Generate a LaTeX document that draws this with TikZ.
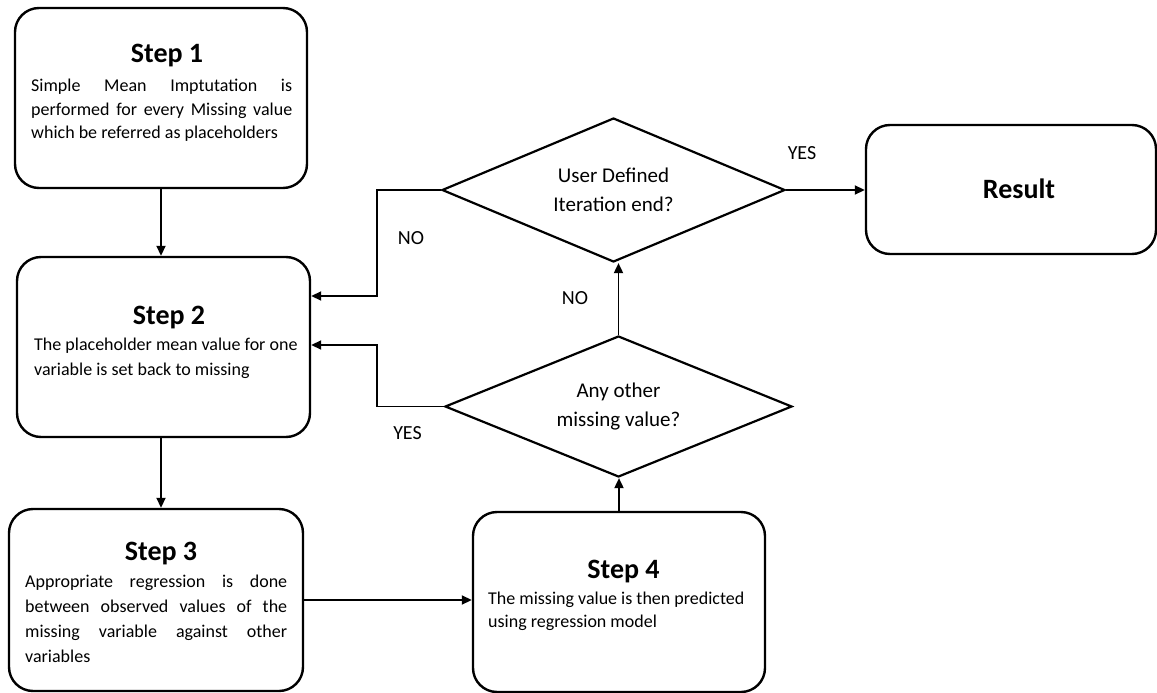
\documentclass[tikz,border=0pt]{standalone}
\usepackage{fontspec}
\setmainfont{Carlito}
\usetikzlibrary{shapes.geometric,arrows.meta}

\begin{document}
\begin{tikzpicture}[x=1pt,y=-1pt,
  stepbox/.style={draw,line width=2.4pt,rounded corners=24pt,rectangle,inner sep=0pt},
  decision/.style={draw,line width=2.2pt,diamond,aspect=2.4,inner sep=0pt,align=center,
    font=\fontsize{21}{28.5}\selectfont},
  conn/.style={line width=1.8pt,-{Triangle[length=10pt,width=9pt]}},
  title/.style={anchor=base,inner sep=0pt,font=\bfseries\fontsize{28}{32}\selectfont},
  body/.style={anchor=base west,inner sep=0pt},
  answer/.style={anchor=base,inner sep=0pt,font=\fontsize{20}{24}\selectfont}]
\useasboundingbox (0,0) rectangle (1157,693);

% process boxes
\node[stepbox,minimum width=292pt,minimum height=180pt] (s1) at (161,98) {};
\node[stepbox,minimum width=293pt,minimum height=180pt] (s2) at (163.5,347) {};
\node[stepbox,minimum width=294pt,minimum height=182pt] (s3) at (156,600) {};
\node[stepbox,minimum width=292pt,minimum height=180pt] (s4) at (619,602) {};
\node[stepbox,minimum width=290pt,minimum height=129pt] (res) at (1011,189.5) {};

% decisions
\node[decision,minimum width=343pt,minimum height=144pt] (d1) at (613.5,190) {User Defined\\Iteration end?};
\node[decision,minimum width=347pt,minimum height=141pt] (d2) at (618.5,406.5) {Any other\\missing value?};

% box texts
\node[title] (t1) at (167,63) {Step 1};
\node[body] (b1) at (31,92) {\parbox[t]{261pt}{\fontsize{18}{23.5}\selectfont
  \makebox[\linewidth][s]{Simple Mean Imptutation is}\\
  \makebox[\linewidth][s]{performed for every Missing value}\\
  which be referred as placeholders}};

\node[title] (t2) at (169,324) {Step 2};
\node[body] (b2) at (34,350) {\parbox[t]{275pt}{\fontsize{18}{25}\selectfont
  The placeholder mean value for one\\
  variable is set back to missing}};

\node[title] (t3) at (161,560) {Step 3};
\node[body] (b3) at (25,587) {\parbox[t]{262pt}{\fontsize{18}{25}\selectfont
  \makebox[\linewidth][s]{Appropriate regression is done}\\
  \makebox[\linewidth][s]{between observed values of the}\\
  \makebox[\linewidth][s]{missing variable against other}\\
  variables}};

\node[title] (t4) at (623.5,578) {Step 4};
\node[body] (b4) at (488,604) {\parbox[t]{270pt}{\fontsize{18}{23.5}\selectfont
  The missing value is then predicted\\
  using regression model}};

\node[title] (rt) at (1019,198) {Result};

% flow
\draw[conn] (s1.south) -- (s1.south |- s2.north);
\draw[conn] (s2.south -| s1.south) -- (s1.south |- s3.north);
\draw[conn] (s3.east) -- (s3.east -| s4.west);
\draw[conn] (s4.north) -- (s4.north |- d2.south);
\draw[conn] (d2.north) -- (d2.north |- d1.south);
\draw[conn] (d1.east) -- (d1.east -| res.west);
\draw[conn] (d1.west) -- ++(-64,0) |- ([yshift=51pt]s2.east);
\draw[conn] (d2.west) -- ++(-67,0) |- ([yshift=2pt]s2.east);

% branch labels
\node[answer] (yes1) at (802,159) {YES};
\node[answer] (no1) at (411,244) {NO};
\node[answer] (no2) at (575,304) {NO};
\node[answer] (yes2) at (407.5,439) {YES};
\end{tikzpicture}
\end{document}
